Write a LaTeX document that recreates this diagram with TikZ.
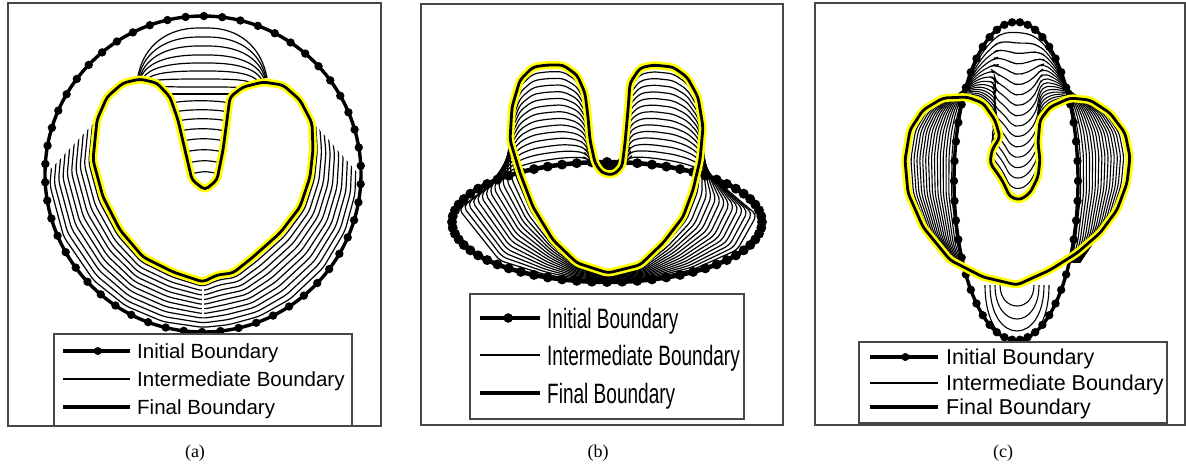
\documentclass[tikz,border=0pt]{standalone}
\usepackage{fontspec}
\setmainfont{Liberation Serif}
\newfontfamily\legfont{Liberation Sans}
\newfontfamily\narrowfont[FakeStretch=0.68]{Liberation Sans}
\usetikzlibrary{calc}
\definecolor{glow}{RGB}{255,255,0}
\definecolor{framec}{RGB}{70,70,70}
\def\heartA{270/203/282, 255/173/272, 240/143/257, 225/120/230, 205/103/197, 185/93/160, 165/97/120, 150/107/97, 138/123/83, 128/140/79, 120/157/83, 113/170/97, 106/178/120, 100/185/150, 95/192/180, 90/205/190, 85/217/180, 80/223/150, 74/227/120, 67/230/97, 60/243/87, 52/263/82, 42/283/85, 30/300/100, 18/312/123, 5/313/150, -8/310/177, -22/300/207, -38/280/233, -55/253/257, -68/233/273, -80/217/275}
\def\heartB{270/608/273, 258/577/263, 246/553/240, 225/533/207, 170/520/173, 131/510/140, 128/512/107, 124/520/80, 118.5/533/67, 113/547/65, 106.5/563/65, 101/577/75, 98/585/93, 97/588/117, 96/590/140, 94.4/595/163, 91.8/602/173, 87.8/613/175, 84.4/622/167, 83.3/625/143, 82.2/628/110, 81.5/630/83, 77.7/640/68, 72.7/653/65, 64.8/673/67, 58.9/687/77, 54/698/97, 51.5/703/127, 47/700/160, 5/693/190, -30/683/217, -55/663/243, -72/640/265}
\def\heartC{270/1017/285, 255/983/277, 235/950/260, 205/923/227, 185/908/193, 170/905/160, 162/910/130, 155/923/110, 148/943/98, 140/967/97, 132/983/103, 122/995/120, 114/1000/137, 108/992/150, 103/990/163, 97/1002/180, 92/1010/197, 88/1020/200, 83/1030/193, 78/1038/177, 73/1040/160, 68/1038/143, 62/1040/120, 52/1050/107, 40/1070/98, 32/1090/100, 25/1110/113, 18/1125/133, 10/1130/157, -5/1127/183, -25/1117/210, -45/1100/233, -58/1077/253, -72/1050/270}
\begin{document}
\begin{tikzpicture}[x=1pt,y=-1pt,
  panelframe/.style={draw=framec,line width=1.3pt},
  legbox/.style={draw=framec,line width=1.1pt,fill=white},
  initline/.style={line width=3.4pt,black},
  interline/.style={line width=1.2pt,black,rounded corners=5pt,line join=round},
  finalglow/.style={line width=8pt,glow,rounded corners=4pt,line join=round},
  finalline/.style={line width=2.8pt,black,rounded corners=4pt,line join=round},
  legA/.style={anchor=west,inner sep=0pt,text height=14.7pt,text depth=0pt,font=\legfont\fontsize{20.5}{24}\selectfont},
  legB/.style={anchor=west,inner sep=0pt,text height=20pt,text depth=0pt,font=\narrowfont\fontsize{28}{32}\selectfont},
  legC/.style={anchor=west,inner sep=0pt,text height=15.4pt,text depth=0pt,font=\legfont\fontsize{21.5}{25}\selectfont},
  captext/.style={inner sep=0pt,font=\fontsize{18}{20}\selectfont}
]
\useasboundingbox (0,0) rectangle (1186,467);
\fill[white] (0,0) rectangle (1186,467);

% ---------------- panel (a) ----------------
\draw[panelframe] (8,3) rectangle (381,426);
\foreach \a/\x/\y [count=\i] in \heartA {
  \coordinate (aH\i) at (\x,\y);
  \coordinate (aC\i) at ({203+158*cos(\a)},{174-158*sin(\a)});
}
\draw[initline] (203,174) circle[radius=158];
\foreach \k in {0,...,53} \fill ({203+158*cos(\k*6.6667+3)},{174-158*sin(\k*6.6667+3)}) circle[radius=4.2pt];
\begin{scope}
\clip (0,215) -- (50,170) -- (93,124) -- (175,124) -- (180,135) -- (185,150) -- (192,180) -- (205,190) -- (217,180) -- (223,150) -- (226,124) -- (313,122) -- (355,170) -- (400,215) -- (400,440) -- (0,440) -- cycle;
\foreach \k in {1,...,10} {
  \pgfmathsetmacro\t{\k/11}
  \draw[interline] ($(aC1)!\t!(aH1)$) \foreach \i in {2,...,32} { -- ($(aC\i)!\t!(aH\i)$) } -- cycle;
}
\end{scope}
\foreach \yc/\lx/\ly/\rx/\ry in {28/138/76/267/78, 37/139/76/266/78, 46/140/77/265/78, 55/141/77/264/79, 63/143/78/262/80, 71/147/79/258/81, 79/152/81/252/83, 87/160/86/244/88, 94/167/94/234/94} {
  \draw[interline] (\lx,\ly) .. controls (\lx+6,{\yc+(\ly-\yc)*0.35}) and (168,\yc) .. (203,\yc) .. controls (238,\yc) and (\rx-6,{\yc+(\ry-\yc)*0.35}) .. (\rx,\ry);
}
\foreach \yy/\lx/\rx in {103/172/229, 112/175/228, 121/178/227, 131/180/225, 141/183/224, 152/185/223, 163/188/221, 174/191/219} {
  \draw[interline] (\lx,\yy) .. controls (\lx+12,\yy-3) and (\rx-12,\yy-3) .. (\rx,\yy);
}
\draw[white,line width=1.2pt] (203,287) -- (203,314);
\draw[finalglow] (aH1) \foreach \i in {2,...,32} { -- (aH\i) } -- cycle;
\draw[finalline] (aH1) \foreach \i in {2,...,32} { -- (aH\i) } -- cycle;
\draw[legbox] (54,334) rectangle (352,426);
\coordinate (aL1s) at (63,351); \coordinate (aL1e) at (130,351);
\coordinate (aL2s) at (63,379); \coordinate (aL2e) at (130,379);
\coordinate (aL3s) at (63,407); \coordinate (aL3e) at (130,407);
\draw[line width=3.8pt] (aL1s) -- (aL1e);
\fill ($(aL1s)!0.52!(aL1e)$) circle[radius=4pt];
\draw[line width=2pt] (aL2s) -- (aL2e);
\draw[line width=3.8pt] (aL3s) -- (aL3e);
\node[legA] (aT1) at (137,351) {Initial Boundary};
\node[legA] (aT2) at (137,379) {Intermediate Boundary};
\node[legA] (aT3) at (137,407) {Final Boundary};
\node[captext] (capA) at (195,453) {(a)};

% ---------------- panel (b) ----------------
\draw[panelframe] (421,4) rectangle (783,425);
\foreach \a/\x/\y [count=\i] in \heartB {
  \coordinate (bH\i) at (\x,\y);
  \coordinate (bC\i) at ({607+155*cos(\a)},{222-60*sin(\a)});
}
\draw[initline,line width=4.5pt] (607,222) ellipse[x radius=155,y radius=60];
\foreach \k in {0,...,63} \fill ({607+155*cos(\k*5.625)},{222-60*sin(\k*5.625)}) circle[radius=5pt];
\foreach \k in {1,...,14} {
  \pgfmathsetmacro\t{\k/15}
  \draw[interline] ($(bC1)!\t!(bH1)$) \foreach \i in {2,...,33} { -- ($(bC\i)!\t!(bH\i)$) } -- cycle;
}
\draw[finalglow] (bH1) \foreach \i in {2,...,33} { -- (bH\i) } -- cycle;
\draw[finalline] (bH1) \foreach \i in {2,...,33} { -- (bH\i) } -- cycle;
\draw[legbox] (470,294) rectangle (744,419);
\coordinate (bL1s) at (480,318); \coordinate (bL1e) at (540,318);
\coordinate (bL2s) at (480,355); \coordinate (bL2e) at (540,355);
\coordinate (bL3s) at (480,393); \coordinate (bL3e) at (540,393);
\draw[line width=4.5pt] (bL1s) -- (bL1e);
\fill ($(bL1s)!0.47!(bL1e)$) circle[radius=4.8pt];
\draw[line width=2.4pt] (bL2s) -- (bL2e);
\draw[line width=4.5pt] (bL3s) -- (bL3e);
\node[legB] (bT1) at (547,318) {Initial Boundary};
\node[legB] (bT2) at (547,355) {Intermediate Boundary};
\node[legB] (bT3) at (547,393) {Final Boundary};
\node[captext] (capB) at (598,453) {(b)};

% ---------------- panel (c) ----------------
\draw[panelframe] (815,3) rectangle (1185,425);
\foreach \a/\x/\y [count=\i] in \heartC {
  \coordinate (cH\i) at (\x,\y);
  \coordinate (cC\i) at ({1016+62*cos(\a)},{181-159*sin(\a)});
}
\draw[initline] (1016,181) ellipse[x radius=62,y radius=159];
\foreach \k in {0,...,49} \fill ({1016+62*cos(\k*7.2)},{181-159*sin(\k*7.2)}) circle[radius=4.2pt];
\begin{scope}
\clip (800,0) rectangle (1190,262);
\foreach \k in {1,...,16} {
  \pgfmathsetmacro\t{\k/17}
  \draw[interline,line width=1.1pt] ($(cC1)!\t!(cH1)$) \foreach \i in {2,...,34} { -- ($(cC\i)!\t!(cH\i)$) } -- cycle;
}
\end{scope}
\foreach \w/\yb in {17/306, 22/319, 27/331, 32/342} {
  \draw[interline,line width=1.1pt] ({1017-\w},285) .. controls ({1017-\w},{285+(\yb-285)/0.75}) and ({1017+\w},{285+(\yb-285)/0.75}) .. ({1017+\w},285);
}
\draw[finalglow] (cH1) \foreach \i in {2,...,34} { -- (cH\i) } -- cycle;
\draw[finalline] (cH1) \foreach \i in {2,...,34} { -- (cH\i) } -- cycle;
\draw[legbox] (859,342) rectangle (1167,423);
\coordinate (cL1s) at (870,357); \coordinate (cL1e) at (938,357);
\coordinate (cL2s) at (870,383); \coordinate (cL2e) at (938,383);
\coordinate (cL3s) at (870,407); \coordinate (cL3e) at (938,407);
\draw[line width=3.8pt] (cL1s) -- (cL1e);
\fill ($(cL1s)!0.52!(cL1e)$) circle[radius=4pt];
\draw[line width=2pt] (cL2s) -- (cL2e);
\draw[line width=3.8pt] (cL3s) -- (cL3e);
\node[legC] (cT1) at (946,357) {Initial Boundary};
\node[legC] (cT2) at (946,383) {Intermediate Boundary};
\node[legC] (cT3) at (946,407) {Final Boundary};
\node[captext] (capC) at (1003,453) {(c)};
\end{tikzpicture}
\end{document}
